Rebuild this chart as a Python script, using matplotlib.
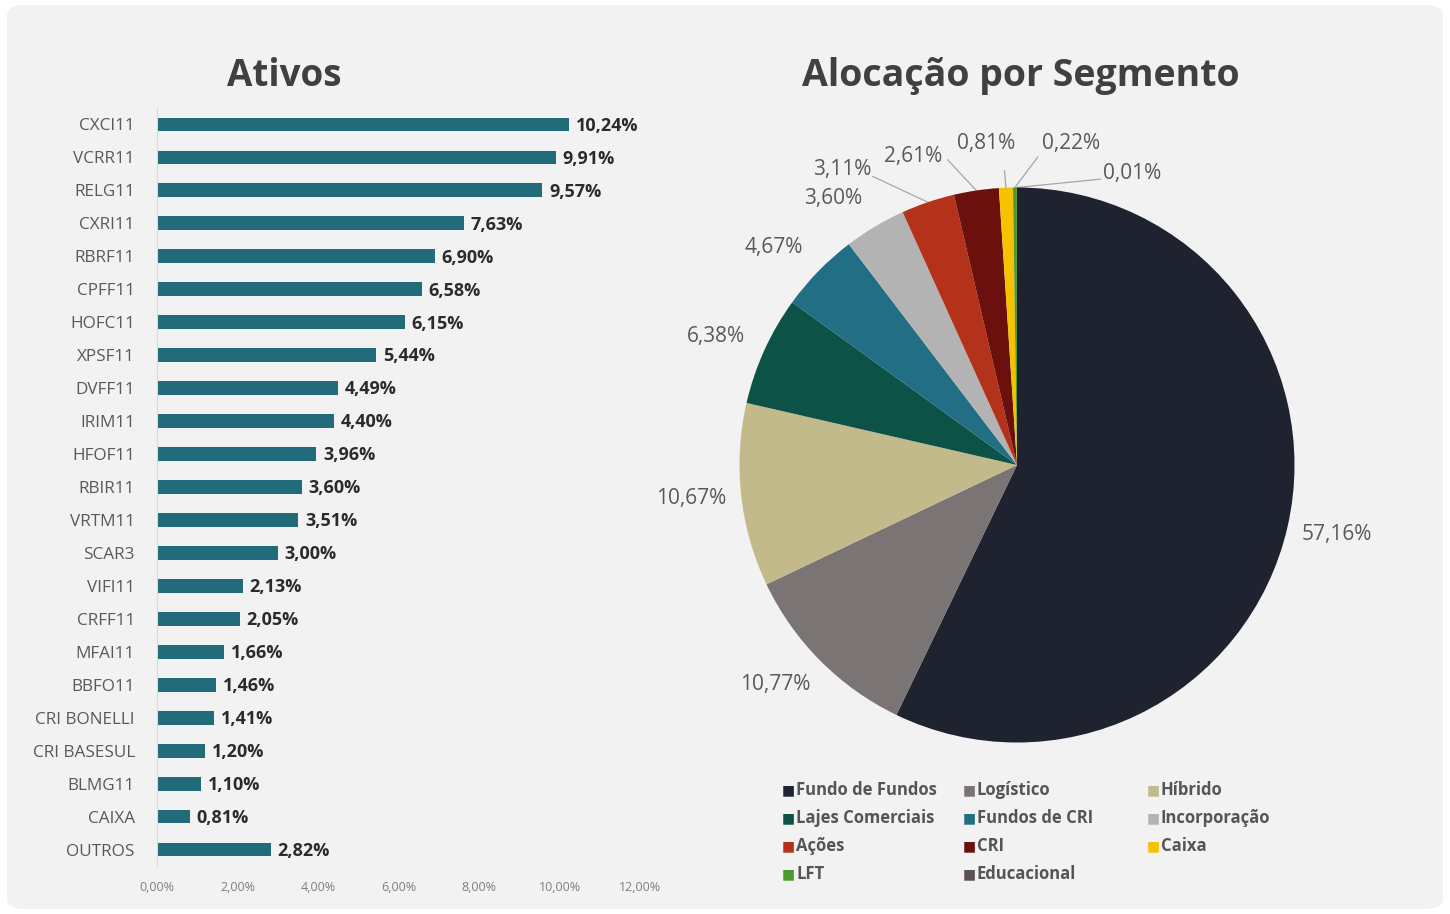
import numpy as np
import matplotlib
matplotlib.use("Agg")
import matplotlib.pyplot as plt
from matplotlib.patches import FancyBboxPatch

plt.rcParams['font.family'] = ['Open Sans', 'DejaVu Sans']

# data - ativos (bar chart)
ativos = ['CXCI11', 'VCRR11', 'RELG11', 'CXRI11', 'RBRF11', 'CPFF11', 'HOFC11',
          'XPSF11', 'DVFF11', 'IRIM11', 'HFOF11', 'RBIR11', 'VRTM11', 'SCAR3',
          'VIFI11', 'CRFF11', 'MFAI11', 'BBFO11', 'CRI BONELLI', 'CRI BASESUL',
          'BLMG11', 'CAIXA', 'OUTROS']
pesos = [10.24, 9.91, 9.57, 7.63, 6.90, 6.58, 6.15, 5.44, 4.49, 4.40, 3.96,
         3.60, 3.51, 3.00, 2.13, 2.05, 1.66, 1.46, 1.41, 1.20, 1.10, 0.81, 2.82]
xticks = [0, 2, 4, 6, 8, 10, 12]

# data - alocacao por segmento (pie)
segmentos = ['Fundo de Fundos', 'Logístico', 'Híbrido', 'Lajes Comerciais',
             'Fundos de CRI', 'Incorporação', 'Ações', 'CRI', 'Caixa', 'LFT',
             'Educacional']
alocacao = [57.16, 10.77, 10.67, 6.38, 4.67, 3.60, 3.11, 2.61, 0.81, 0.22, 0.01]
cores = ['#1f2330', '#7a7475', '#c3ba8b', '#0d5246', '#226e84', '#b4b3b3',
         '#b5321a', '#6b100c', '#f5c200', '#4c9a2c', '#5a5055']


def fmt(v):
    return f'{v:.2f}'.replace('.', ',') + '%'


fig = plt.figure(figsize=(14.5, 9.14), dpi=100)
fig.patch.set_facecolor('white')
panel = FancyBboxPatch((7 / 1450, 5 / 914), 1436 / 1450, 904 / 914,
                       boxstyle='round,pad=0,rounding_size=0.012',
                       transform=fig.transFigure, facecolor='#f2f2f2',
                       edgecolor='none', zorder=-10)
fig.patches.append(panel)

# ---- bar chart
ax = fig.add_axes([157 / 1450, 1 - 866 / 914, (640 - 157) / 1450, 758 / 914])
ax.set_facecolor('none')
y = np.arange(len(ativos))
ax.barh(y, pesos, height=0.42, color='#226b7b', zorder=2)
for yi, v in zip(y, pesos):
    ax.text(v + 0.17, yi + 0.04, fmt(v), va='center', ha='left', fontsize=13,
            fontweight='bold', color='#2b2b2b')
ax.set_yticks(y)
ax.set_yticklabels(ativos, fontsize=12.3, color='#595959')
ax.set_ylim(len(ativos) - 0.5, -0.5)
ax.set_xlim(0, 12)
ax.set_xticks(xticks)
ax.set_xticklabels([fmt(t) for t in xticks], fontsize=9, color='#7f7f7f')
ax.tick_params(axis='both', length=0)
ax.tick_params(axis='y', pad=16)
ax.tick_params(axis='x', pad=11)
for s in ['top', 'right', 'bottom']:
    ax.spines[s].set_visible(False)
ax.spines['left'].set_color('#d9d9d9')
fig.text(284 / 1450, 1 - 76 / 914, 'Ativos', ha='center', va='center',
         fontsize=26.5, fontweight='bold', color='#404040')

# ---- pie chart
R = 277.5
pax = fig.add_axes([(1017 - 1.5 * R) / 1450, (914 - 465 - 1.5 * R) / 914,
                    3 * R / 1450, 3 * R / 914])
pax.set_facecolor('none')
wedges, _ = pax.pie(alocacao, colors=cores, startangle=90, counterclock=False,
                    radius=1.0)
pax.set_xlim(-1.5, 1.5)
pax.set_ylim(-1.5, 1.5)
pax.set_aspect('equal')
pax.axis('off')

# label placement: outside end (box just outside the edge); the thin slices
# at the top are moved up and get leader lines
small_pos = {6: (-0.63, 1.065), 7: (-0.375, 1.11), 8: (-0.112, 1.16),
             9: (0.195, 1.16), 10: (0.415, 1.05)}
small_line = {6: (-0.52, 1.04), 7: (-0.25, 1.10), 8: (-0.045, 1.06),
              9: (0.075, 1.11), 10: (0.30, 1.03)}
for i, w in enumerate(wedges):
    ang = np.deg2rad((w.theta1 + w.theta2) / 2)
    ex, ey = np.cos(ang), np.sin(ang)
    if i in small_pos:
        tx, ty = small_pos[i]
        lx, ly = small_line[i]
        pax.plot([lx, ex], [ly, ey], color='#a6a6a6', lw=0.9, zorder=0)
    else:
        tx = ex + 0.06 * ex + 0.12 * np.sign(ex)
        ty = ey + 0.12 * ey
    pax.text(tx, ty, fmt(alocacao[i]), ha='center', va='center',
             fontsize=15, color='#595959')
fig.text(1021 / 1450, 1 - 76 / 914, 'Alocação por Segmento', ha='center',
         va='center', fontsize=27, fontweight='bold', color='#404040')

# ---- legend (3 columns, filled row by row)
col_x = [782, 963, 1147]
row_y = [790, 818, 846, 874]
for i, (lab, c) in enumerate(zip(segmentos, cores)):
    r, k = divmod(i, 3)
    fig.text(col_x[k] / 1450, 1 - row_y[r] / 914, '■', ha='left', va='center',
             fontsize=10, color=c, family='DejaVu Sans')
    fig.text((col_x[k] + 14) / 1450, 1 - row_y[r] / 914, lab, ha='left',
             va='center', fontsize=12, fontweight='bold', color='#555555')

fig.savefig('out.png', dpi=100, facecolor=fig.get_facecolor())
